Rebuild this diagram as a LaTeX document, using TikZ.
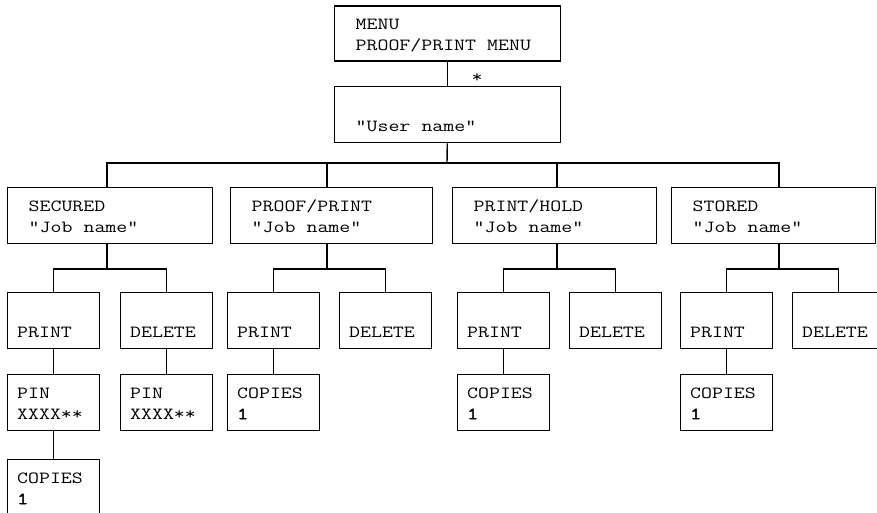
\documentclass[tikz,border=0pt]{standalone}
\usepackage{fontspec}
\newfontfamily\cour[FakeStretch=1.25]{Latin Modern Mono}
\newfontfamily\courb[FakeStretch=1.25,FakeBold=2.5]{Latin Modern Mono}
\newcommand\bxs{\rule[-3pt]{0pt}{18pt}}
\newcommand\wsp{\hspace{11.1pt}}
\begin{document}
\begin{tikzpicture}[x=1pt,y=-1pt,
  box/.style={draw, line width=1.4pt, rectangle, anchor=north west, align=left,
    inner ysep=0pt, font=\cour\fontsize{17}{21}\selectfont, minimum height=56pt},
  big/.style={box, inner xsep=21pt, text width=#1},
  small/.style={box, inner xsep=9.5pt, text width=73pt},
  conn/.style={line width=1.4pt},
  startxt/.style={font=\cour\fontsize{17}{21}\selectfont, anchor=base, inner sep=0pt}]
\useasboundingbox (0,0) rectangle (877,513);

% top chain
\node[big=184pt, minimum height=55pt] (menu) at (334,5.5) {\bxs MENU\\\bxs PROOF/PRINT\wsp MENU};
\node[big=184pt] (user) at (334,86) {\bxs\\\bxs “User\wsp name”};
\node[startxt] (star) at (477,83) {*};

% categories
\node[big=163pt] (sec) at (7,187) {\bxs SECURED\\\bxs “Job\wsp name”};
\node[big=160pt] (pp) at (230,187) {\bxs PROOF/PRINT\\\bxs “Job\wsp name”};
\node[big=162pt] (ph) at (452,187) {\bxs PRINT/HOLD\\\bxs “Job\wsp name”};
\node[big=162pt] (st) at (671,187) {\bxs STORED\\\bxs “Job\wsp name”};

% SECURED children
\node[small] (sP) at (7,292) {\bxs\\\bxs PRINT};
\node[small] (sD) at (120,292) {\bxs\\\bxs DELETE};
\node[small] (sPin) at (7,374) {\bxs PIN\\\bxs XXXX**};
\node[small] (sDPin) at (120,374) {\bxs PIN\\\bxs XXXX**};
\node[small] (sC) at (7,459) {\bxs COPIES\\\bxs{\courb 1}};

% PROOF/PRINT children
\node[small] (pP) at (227,292) {\bxs\\\bxs PRINT};
\node[small] (pD) at (339,292) {\bxs\\\bxs DELETE};
\node[small] (pC) at (227,374) {\bxs COPIES\\\bxs{\courb 1}};

% PRINT/HOLD children
\node[small] (hP) at (457,292) {\bxs\\\bxs PRINT};
\node[small] (hD) at (569,292) {\bxs\\\bxs DELETE};
\node[small] (hC) at (457,374) {\bxs COPIES\\\bxs{\courb 1}};

% STORED children
\node[small] (tP) at (680,292) {\bxs\\\bxs PRINT};
\node[small] (tD) at (792,292) {\bxs\\\bxs DELETE};
\node[small] (tC) at (680,374) {\bxs COPIES\\\bxs{\courb 1}};

% junctions
\coordinate (bus) at (447,163);
\coordinate (j1) at (107,269);
\coordinate (j2) at (327,269);
\coordinate (j3) at (557,269);
\coordinate (j4) at (779,269);

% connectors
\draw[conn] (menu) -- (user);
\draw[conn] (user) -- (bus);
\draw[conn] (sec.north -| j1) -- (j1 |- bus) -- (j4 |- bus) -- (st.north -| j4);
\draw[conn] (pp.north -| j2) -- (j2 |- bus);
\draw[conn] (ph.north -| j3) -- (j3 |- bus);

\draw[conn] (sec.south -| j1) -- (j1);
\draw[conn] (pp.south -| j2) -- (j2);
\draw[conn] (ph.south -| j3) -- (j3);
\draw[conn] (st.south -| j4) -- (j4);

\draw[conn] (sP) |- (j1) -| (sD);
\draw[conn] (pP) |- (j2) -| (pD);
\draw[conn] (hP) |- (j3) -| (hD);
\draw[conn] (tP) |- (j4) -| (tD);

\draw[conn] (sP) -- (sPin);
\draw[conn] (sD) -- (sDPin);
\draw[conn] (sPin) -- (sC);
\draw[conn] (pP) -- (pC);
\draw[conn] (hP) -- (hC);
\draw[conn] (tP) -- (tC);
\end{tikzpicture}
\end{document}
